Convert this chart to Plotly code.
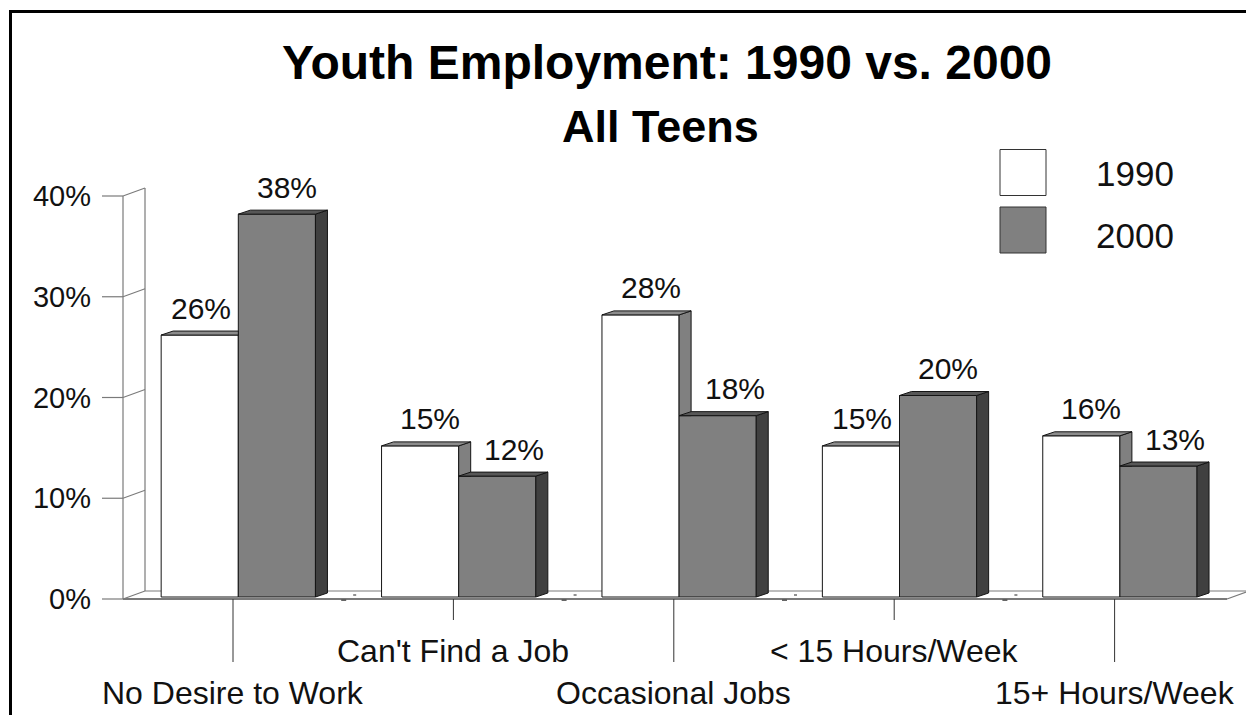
import plotly.graph_objects as go

# ---------------- data ----------------
categories = ["No Desire to Work", "Can't Find a Job", "Occasional Jobs",
              "< 15 Hours/Week", "15+ Hours/Week"]
series_names = ["1990", "2000"]
values_1990 = [26, 15, 28, 15, 16]
values_2000 = [38, 12, 18, 20, 13]
y_tick_values = [0, 10, 20, 30, 40]
y_tick_labels = ["0%", "10%", "20%", "30%", "40%"]
title_text = "Youth Employment: 1990 vs. 2000"
subtitle_text = "All Teens"

# ---------------- geometry / style ----------------
W, H = 1246, 715
ML, MR, MT, MB = 95, 0, 140, 5
PW = W - ML - MR
PH = H - MT - MB
UX = 220.4      # px per category step
UY = 10.075     # px per percent
X0_PX = 238.3   # pixel of first category centre (bar plane)
Y0_PX = 599     # pixel of the 0 line (front plane)
x_range = [(ML - X0_PX) / UX, (ML + PW - X0_PX) / UX]
y_range = [(Y0_PX - (MT + PH)) / UY, (Y0_PX - MT) / UY]

FONT = "Liberation Sans, Arial, sans-serif"
TXT = "#111"
BW = 0.35                 # bar width in category units
BASE = 2 / UY             # bars sit slightly behind the front edge
BDX, BDY = 12 / UX, 4 / UY
WDX, WDY = 22 / UX, 8 / UY
TICK_SHIFT = 5.3 / UX
WALL_X = (123 - X0_PX) / UX
FLOOR_END = (1227 - X0_PX) / UX
AX_COL = "#7a7a7a"
EDGE = "#151515"
WHITE_FRONT, WHITE_TOP, WHITE_SIDE = "#ffffff", "#8c8c8c", "#808080"
GRAY_FRONT, GRAY_TOP, GRAY_SIDE = "#808080", "#575757", "#404040"


def paper_x(px):
    return (px - ML) / PW


def paper_y(py):
    return (MT + PH - py) / PH


xs = list(range(len(categories)))
ymax = max(y_tick_values)

fig = go.Figure()

# front faces of bars
fig.add_trace(go.Bar(x=xs, y=values_1990, base=BASE, width=BW, offset=-BW,
                     name=series_names[0],
                     marker=dict(color=WHITE_FRONT, line=dict(color=EDGE, width=1))))
fig.add_trace(go.Bar(x=xs, y=values_2000, base=BASE, width=BW, offset=0,
                     name=series_names[1],
                     marker=dict(color=GRAY_FRONT, line=dict(color=EDGE, width=1))))

# depth faces
wside_x, wside_y, wtop_x, wtop_y = [], [], [], []
gside_x, gside_y, gtop_x, gtop_y = [], [], [], []
for i, (w, g) in enumerate(zip(values_1990, values_2000)):
    tw, tg = BASE + w, BASE + g
    if g < w:
        px = [i - BW, i, i + BDX, i - BW + BDX, i - BW]
        py = [tw, tw, tw + BDY, tw + BDY, tw]
        sx = [i, i, i + BDX, i + BDX, i]
        sy = [tg, tw, tw + BDY, tg, tg]
        wside_x += sx + [None]
        wside_y += sy + [None]
    else:
        px = [i - BW, i, i, i - BW + BDX, i - BW]
        py = [tw, tw, tw + BDY, tw + BDY, tw]
    wtop_x += px + [None]
    wtop_y += py + [None]
    gtop_x += [i, i + BW, i + BW + BDX, i + BDX, i, None]
    gtop_y += [tg, tg, tg + BDY, tg + BDY, tg, None]
    gside_x += [i + BW, i + BW, i + BW + BDX, i + BW + BDX, i + BW, None]
    gside_y += [BASE, tg, tg + BDY, BASE + BDY, BASE, None]

for fx, fy, col in [(wside_x, wside_y, WHITE_SIDE), (wtop_x, wtop_y, WHITE_TOP),
                    (gside_x, gside_y, GRAY_SIDE), (gtop_x, gtop_y, GRAY_TOP)]:
    if fx:
        fig.add_trace(go.Scatter(x=fx, y=fy, mode="lines", fill="toself",
                                 fillcolor=col, line=dict(color=EDGE, width=1),
                                 hoverinfo="skip", showlegend=False))

shapes = []


def seg(x0, y0, x1, y1, color=AX_COL, width=1.2, layer="below"):
    shapes.append(dict(type="line", xref="x", yref="y", x0=x0, y0=y0, x1=x1, y1=y1,
                       line=dict(color=color, width=width), layer=layer))


# wall
seg(WALL_X, 0, WALL_X, ymax)
seg(WALL_X + WDX, WDY, WALL_X + WDX, ymax + WDY)
for v in y_tick_values:
    seg(WALL_X, v, WALL_X + WDX, v + WDY)
    seg(WALL_X - 21 / UX, v, WALL_X, v)
# floor
seg(WALL_X, 0, FLOOR_END, 0, width=2)
seg(WALL_X + WDX, WDY, FLOOR_END + WDX, WDY)
seg(FLOOR_END, 0, FLOOR_END + WDX, WDY)
# small separator marks on the floor
for i in xs[:-1]:
    mid = i + 0.5 - TICK_SHIFT
    seg(mid - 2 / UX, -1.2 / UY, mid + 3 / UX, -1.2 / UY, color="#222", width=1, layer="above")
    seg(mid + 10 / UX, 4 / UY, mid + 13 / UX, 4 / UY, color="#222", width=1, layer="above")

annotations = []
# category ticks + labels (staggered)
for i, cat in enumerate(categories):
    xc = i - TICK_SHIFT
    low = (i % 2 == 0)
    seg(xc, 0, xc, -(63 if low else 21) / UY, color="#333", width=1)
    annotations.append(dict(x=xc, y=(Y0_PX - (693 if low else 651)) / UY, xref="x", yref="y",
                            text=cat, showarrow=False, xanchor="center", yanchor="middle",
                            font=dict(family=FONT, size=32, color=TXT)))

# value labels
for i, (w, g) in enumerate(zip(values_1990, values_2000)):
    annotations.append(dict(x=i - BW / 2, y=BASE + w, xref="x", yref="y", text=f"{w}%",
                            showarrow=False, xanchor="center", yanchor="middle",
                            xshift=(10 if g < w else 1), yshift=27,
                            font=dict(family=FONT, size=30, color=TXT)))
    annotations.append(dict(x=i + BW / 2, y=BASE + g, xref="x", yref="y", text=f"{g}%",
                            showarrow=False, xanchor="center", yanchor="middle",
                            xshift=(17 if g < w else 10), yshift=27,
                            font=dict(family=FONT, size=30, color=TXT)))

# title & subtitle
annotations.append(dict(x=paper_x(667), y=paper_y(62), xref="paper", yref="paper",
                        text=title_text, showarrow=False, xanchor="center", yanchor="middle",
                        font=dict(family=FONT, size=48, color="#000", weight="bold")))
annotations.append(dict(x=paper_x(660), y=paper_y(127), xref="paper", yref="paper",
                        text=subtitle_text, showarrow=False, xanchor="center", yanchor="middle",
                        font=dict(family=FONT, size=45, color="#000", weight="bold")))

# legend (custom squares)
for k, (name, col, cy) in enumerate([(series_names[0], WHITE_FRONT, 172.5),
                                      (series_names[1], GRAY_FRONT, 230)]):
    shapes.append(dict(type="rect", xref="paper", yref="paper",
                       x0=paper_x(1000), x1=paper_x(1046),
                       y0=paper_y(cy - 23), y1=paper_y(cy + 23),
                       fillcolor=col, line=dict(color="#333", width=1), layer="above"))
    annotations.append(dict(x=paper_x(1094), y=paper_y(cy + 1 + 4 * k), xref="paper", yref="paper",
                            text=name, showarrow=False, xanchor="left", yanchor="middle",
                            font=dict(family=FONT, size=35, color=TXT)))

# outer frame
shapes.append(dict(type="rect", xref="paper", yref="paper",
                   x0=paper_x(10.5), y0=paper_y(11.5), x1=paper_x(1260), y1=paper_y(730),
                   line=dict(color="#000", width=3), fillcolor="rgba(0,0,0,0)", layer="above"))

fig.update_layout(
    width=W, height=H,
    margin=dict(l=ML, r=MR, t=MT, b=MB, autoexpand=False),
    paper_bgcolor="white", plot_bgcolor="white",
    barmode="overlay", showlegend=False,
    shapes=shapes, annotations=annotations,
    xaxis=dict(range=x_range, visible=False, fixedrange=True),
    yaxis=dict(range=y_range, tickvals=y_tick_values, ticktext=y_tick_labels,
               ticks="", showgrid=False, zeroline=False, showline=False,
               tickfont=dict(family=FONT, size=29, color=TXT),
               ticklabelstandoff=3, automargin=False, fixedrange=True),
)

fig.write_html("out.html",
               config={"displayModeBar": False, "staticPlot": True},
               post_script="document.body.style.margin='0';document.body.style.overflow='hidden';")
